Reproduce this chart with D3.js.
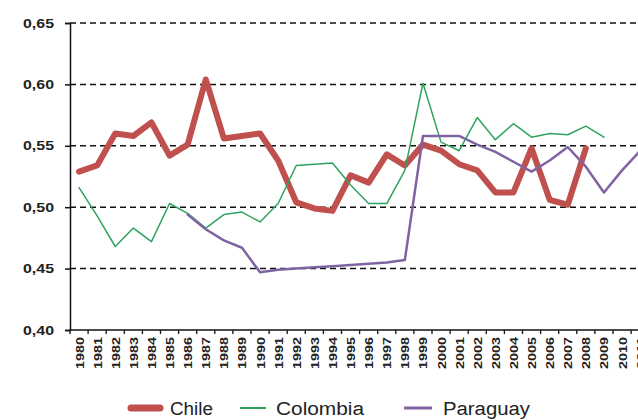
<!DOCTYPE html>
<html><head><meta charset="utf-8">
<script src="https://cdn.jsdelivr.net/npm/d3@7"></script>
<style>body{margin:0;background:#fff}svg{display:block}text{font-family:"Liberation Sans",Arial,sans-serif}</style>
</head><body><svg id="c" width="638" height="420"></svg>
<script>
const years = d3.range(1980, 2012).map(String);
const yTicks = [0.40, 0.45, 0.50, 0.55, 0.60, 0.65];
const chile = [0.529,0.534,0.560,0.558,0.569,0.542,0.551,0.604,0.556,0.558,0.560,0.538,0.504,0.499,0.497,0.526,0.520,0.543,0.534,0.551,0.546,0.535,0.530,0.512,0.512,0.548,0.506,0.502,0.548,null,null,null];
const colombia = [0.516,0.493,0.468,0.483,0.472,0.503,0.495,0.483,0.494,0.496,0.488,0.503,0.534,0.535,0.536,0.518,0.503,0.503,0.530,0.601,0.553,0.546,0.573,0.555,0.568,0.557,0.560,0.559,0.566,0.557,null,null];
const paraguay = [null,null,null,null,null,null,0.494,0.482,0.473,0.467,0.447,0.449,0.450,0.451,0.452,0.453,0.454,0.455,0.457,0.558,0.558,0.558,0.551,0.545,0.537,0.529,0.538,0.549,0.533,0.512,0.530,0.546];
const series = [
  {name:"Chile", values:chile, color:"#C0504D", width:6},
  {name:"Colombia", values:colombia, color:"#2EA35E", width:1.5},
  {name:"Paraguay", values:paraguay, color:"#8064A2", width:2.5}
];
const svg = d3.select("#c");
const mLeft = 70, mTop = 23, mBottom = 330;
const x = d3.scaleBand().domain(years).range([mLeft, mLeft + years.length*18.1]).padding(0);
const y = d3.scaleLinear().domain([0.40, 0.65]).range([mBottom, mTop]);

// gridlines
svg.append("g").selectAll("line").data(yTicks.filter(d=>d>0.40)).join("line")
  .attr("x1", mLeft).attr("x2", 638).attr("y1", d=>y(d)).attr("y2", d=>y(d))
  .attr("stroke", "#111").attr("stroke-width", 1.5).attr("stroke-dasharray", "6,4");

// y axis
const ya = svg.append("g").attr("transform", `translate(${mLeft},0)`)
  .call(d3.axisLeft(y).tickValues(yTicks).tickSize(5).tickFormat(d=>d3.format(".2f")(d).replace(".", ",")));
ya.select(".domain").attr("stroke", "#111").attr("stroke-width", 1.5);
ya.selectAll(".tick line").attr("stroke", "#111").attr("stroke-width", 1.5);
ya.selectAll(".tick text").attr("x", -16).attr("font-size", 13).attr("font-weight", "bold").attr("fill", "#222")
  .attr("textLength", 31).attr("lengthAdjust", "spacingAndGlyphs");

// x axis
const xa = svg.append("g");
xa.append("line").attr("x1", mLeft).attr("x2", 638).attr("y1", mBottom).attr("y2", mBottom).attr("stroke", "#111").attr("stroke-width", 1.5);
xa.selectAll("line.t").data(years).join("line").attr("class","t")
  .attr("x1", d=>x(d)).attr("x2", d=>x(d)).attr("y1", mBottom).attr("y2", mBottom+4)
  .attr("stroke", "#111").attr("stroke-width", 1.3);
xa.selectAll("text").data(years).join("text")
  .attr("transform", d=>`translate(${x(d)+x.bandwidth()/2+4.5},${mBottom+7}) rotate(-90)`)
  .attr("text-anchor", "end").attr("font-size", 11.5).attr("font-weight", "bold").attr("fill", "#222")
  .attr("textLength", 32).attr("lengthAdjust", "spacingAndGlyphs")
  .text(d=>d);

// lines
const line = d3.line().defined(d=>d[1]!=null).x(d=>x(d[0])+x.bandwidth()/2).y(d=>y(d[1]));
series.forEach(s=>{
  svg.append("path").datum(years.map((yr,i)=>[yr, s.values[i]]))
    .attr("d", line).attr("fill", "none").attr("stroke", s.color)
    .attr("stroke-width", s.width).attr("stroke-linejoin", "round").attr("stroke-linecap", "round");
});

// legend
const legPos = [{lx:131, len:29, tx:170, tl:43}, {lx:240, len:26, tx:276, tl:88}, {lx:404, len:28, tx:443, tl:87}];
series.forEach((s,i)=>{
  const p = legPos[i];
  svg.append("line").attr("x1", p.lx).attr("x2", p.lx + p.len).attr("y1", 408).attr("y2", 408)
    .attr("stroke", s.color).attr("stroke-width", i==0?7:(i==1?2:3)).attr("stroke-linecap", i==0?"round":"butt");
  svg.append("text").attr("x", p.tx).attr("y", 415).attr("font-size", 18).attr("fill", "#222")
    .attr("textLength", p.tl).attr("lengthAdjust", "spacingAndGlyphs").text(s.name);
});
</script></body></html>
